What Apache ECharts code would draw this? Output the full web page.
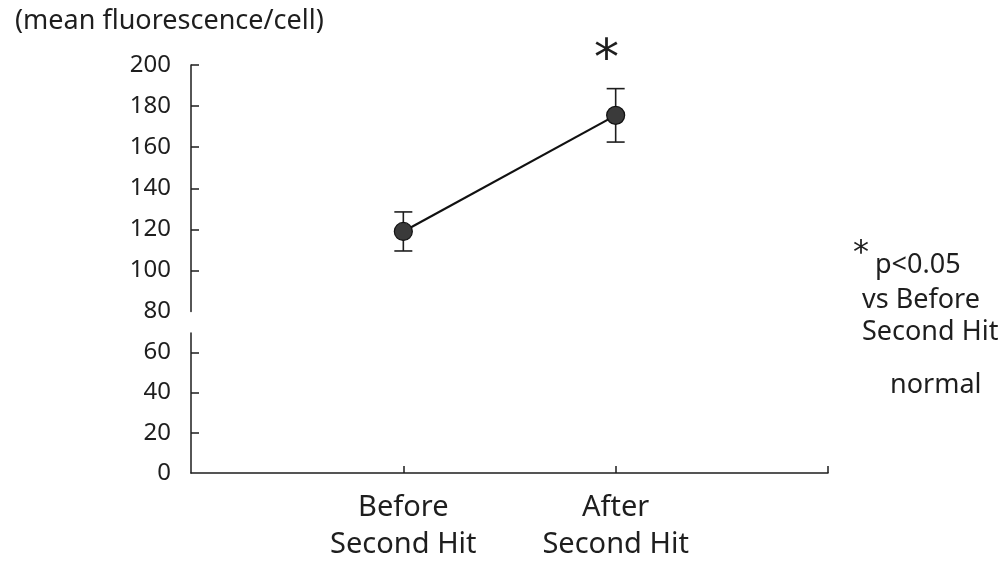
<!DOCTYPE html>
<html>
<head>
<meta charset="utf-8">
<title>Mean fluorescence per cell before and after second hit</title>
<script src="https://cdn.jsdelivr.net/npm/echarts@6/dist/echarts.min.js"></script>
<style>
  html, body { margin: 0; padding: 0; background: #fff; }
  #chart { width: 1005px; height: 563px; }
</style>
</head>
<body>
<div id="chart"></div>
<script>
// Groups along the x axis (blank slots pad both ends of the axis)
const groups = ['Before\nSecond Hit', 'After\nSecond Hit'];
// Mean fluorescence per cell for each group
const means = [119, 175.5];
// Error (± value) for each group
const errors = [9.5, 13];
// Tick values for the two pieces of the broken y axis
const upperTicks = [80, 100, 120, 140, 160, 180, 200];
const lowerTicks = [0, 20, 40, 60];

const FONT = '"Noto Sans", "DejaVu Sans", sans-serif';
const INK = '#1e1e1e';

const xLabels = [''].concat(groups, ['']);
const lineData = [null].concat(means, [null]);
const errData = means.map((m, i) => [i + 1, m - errors[i], m + errors[i]]);

const gridLeft = 191, gridRight = 177;

const xAxisBase = {
  type: 'category',
  data: xLabels,
  boundaryGap: false
};

const chart = echarts.init(document.getElementById('chart'), null, { renderer: 'canvas' });

chart.setOption({
  backgroundColor: '#ffffff',
  animation: false,
  title: {
    text: '(mean fluorescence/cell)',
    left: 10, top: 3,
    textStyle: { fontFamily: FONT, fontSize: 27, fontWeight: 'normal', color: INK }
  },
  grid: [
    // upper piece of the broken axis: 80–200
    { left: gridLeft, right: gridRight, top: 65, height: 246.6 },
    // lower piece: 0 up to just below the break
    { left: gridLeft, right: gridRight, top: 333, bottom: 87 }
  ],
  xAxis: [
    Object.assign({}, xAxisBase, {
      gridIndex: 0,
      show: false
    }),
    Object.assign({}, xAxisBase, {
      gridIndex: 1,
      axisLine: { show: true, lineStyle: { color: INK, width: 1.5 } },
      axisTick: {
        show: true, inside: true, length: 7,
        interval: (idx) => idx > 0,
        lineStyle: { color: INK, width: 1.5 }
      },
      axisLabel: {
        fontFamily: FONT, fontSize: 29, color: INK,
        lineHeight: 37, margin: 16,
        interval: 0
      },
      splitLine: { show: false }
    })
  ],
  yAxis: [
    {
      type: 'value', gridIndex: 0,
      min: 80, max: 200, interval: 20,
      axisLine: { show: true, lineStyle: { color: INK, width: 1.5 } },
      axisTick: {
        show: true, inside: true, length: 8,
        customValues: upperTicks.filter(v => v > 80),
        lineStyle: { color: INK, width: 1.5 }
      },
      axisLabel: {
        customValues: upperTicks,
        fontFamily: FONT, fontSize: 24, color: INK, margin: 20
      },
      splitLine: { show: false }
    },
    {
      type: 'value', gridIndex: 1,
      min: 0, max: 69.6, interval: 20,
      axisLine: { show: true, lineStyle: { color: INK, width: 1.5 } },
      axisTick: {
        show: true, inside: true, length: 8,
        customValues: lowerTicks.filter(v => v > 0),
        lineStyle: { color: INK, width: 1.5 }
      },
      axisLabel: {
        customValues: lowerTicks,
        fontFamily: FONT, fontSize: 24, color: INK, margin: 20
      },
      splitLine: { show: false }
    }
  ],
  series: [
    {
      // Error bars: vertical whisker with a cap at each end
      type: 'custom',
      xAxisIndex: 0, yAxisIndex: 0,
      data: errData,
      z: 2,
      renderItem: function (params, api) {
        const x = api.value(0);
        const lo = api.coord([x, api.value(1)]);
        const hi = api.coord([x, api.value(2)]);
        const half = 9;
        const style = { stroke: INK, lineWidth: 1.6 };
        return {
          type: 'group',
          children: [
            { type: 'line', shape: { x1: lo[0], y1: lo[1], x2: hi[0], y2: hi[1] }, style: style },
            { type: 'line', shape: { x1: lo[0] - half, y1: lo[1], x2: lo[0] + half, y2: lo[1] }, style: style },
            { type: 'line', shape: { x1: hi[0] - half, y1: hi[1], x2: hi[0] + half, y2: hi[1] }, style: style }
          ]
        };
      }
    },
    {
      type: 'line',
      xAxisIndex: 0, yAxisIndex: 0,
      data: lineData,
      z: 3,
      symbol: 'circle',
      symbolSize: 18,
      lineStyle: { color: '#111', width: 2.2 },
      itemStyle: { color: '#3a3a3a', borderColor: '#111', borderWidth: 1.2 }
    }
  ],
  graphic: [
    {
      // significance marker above the After group
      type: 'text',
      left: 594, top: 36,
      style: { text: '*', fontFamily: '"DejaVu Sans", sans-serif', fontSize: 50, fill: INK }
    },
    {
      type: 'text',
      left: 853, top: 238,
      style: { text: '*', fontFamily: '"DejaVu Sans", sans-serif', fontSize: 32, fill: INK }
    },
    {
      type: 'text',
      left: 875, top: 252,
      style: { text: 'p<0.05', fontFamily: FONT, fontSize: 27, fill: INK }
    },
    {
      type: 'text',
      left: 862, top: 284,
      style: { text: 'vs Before\nSecond Hit', fontFamily: FONT, fontSize: 27, lineHeight: 32, fill: INK }
    },
    {
      type: 'text',
      left: 890, top: 372,
      style: { text: 'normal', fontFamily: FONT, fontSize: 27, fill: INK }
    }
  ]
});
</script>
</body>
</html>
